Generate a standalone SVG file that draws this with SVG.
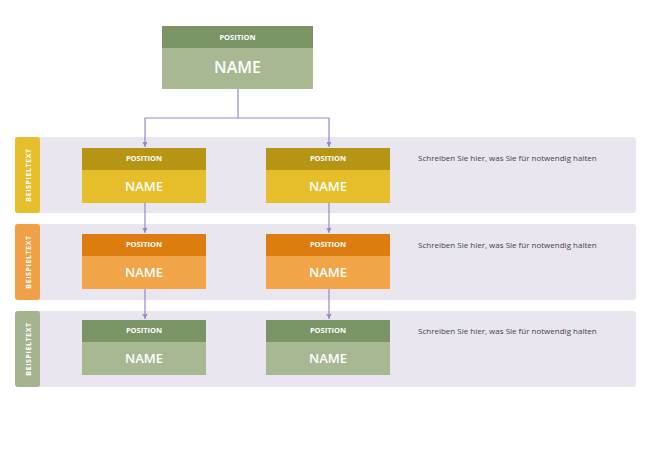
<svg xmlns="http://www.w3.org/2000/svg" width="650" height="450" viewBox="0 0 650 450">
<style>
text{font-family:"Open Sans","Noto Sans",sans-serif;fill:#fff;text-anchor:middle}
.p{font-size:7.5px;font-weight:bold}
.n{font-size:13px;font-weight:600}
.t{font-size:7px;font-weight:bold;letter-spacing:0.6px}
.d{font-size:8px;fill:#444;text-anchor:start}
.band{fill:#e9e6f0}
.c{stroke:#9b86c8;stroke-width:1.2;fill:none}
</style>
<defs><marker id="a" markerWidth="6" markerHeight="6" refX="5" refY="3" orient="auto" markerUnits="userSpaceOnUse"><path d="M0,0.5L5,3L0,5.5z" fill="#9b86c8"/></marker></defs>
<rect class="band" x="15" y="137" width="621" height="76" rx="3"/>
<rect class="band" x="15" y="224" width="621" height="76" rx="3"/>
<rect class="band" x="15" y="311" width="621" height="76" rx="3"/>
<g id="tab1"><rect x="15" y="137" width="25" height="76" rx="3" fill="#e6bd2b"/><text class="t" transform="translate(31,175) rotate(-90)">BEISPIELTEXT</text></g>
<g id="tab2"><rect x="15" y="224" width="25" height="76" rx="3" fill="#f0a047"/><text class="t" transform="translate(31,262) rotate(-90)">BEISPIELTEXT</text></g>
<g id="tab3"><rect x="15" y="311" width="25" height="76" rx="3" fill="#a3b48f"/><text class="t" transform="translate(31,349) rotate(-90)">BEISPIELTEXT</text></g>
<g id="connectors">
<path class="c" d="M238,89V118H145V147" marker-end="url(#a)"/>
<path class="c" d="M238,118H329V147" marker-end="url(#a)"/>
<path class="c" d="M145,203V233" marker-end="url(#a)"/>
<path class="c" d="M329,203V233" marker-end="url(#a)"/>
<path class="c" d="M145,289V319" marker-end="url(#a)"/>
<path class="c" d="M329,289V319" marker-end="url(#a)"/>
</g>
<g id="top"><rect x="162" y="26" width="151" height="22" fill="#7b9466"/><rect x="162" y="48" width="151" height="41" fill="#a7b893"/><text class="p" x="237.5" y="40">POSITION</text><text class="n" x="237.5" y="73" style="font-size:16px">NAME</text></g>
<g id="y1"><rect x="82" y="148" width="124" height="22" fill="#b69514"/><rect x="82" y="170" width="124" height="33" fill="#e6bd2b"/><text class="p" x="144" y="161">POSITION</text><text class="n" x="144" y="191">NAME</text></g>
<g id="y2"><rect x="266" y="148" width="124" height="22" fill="#b69514"/><rect x="266" y="170" width="124" height="33" fill="#e6bd2b"/><text class="p" x="328" y="161">POSITION</text><text class="n" x="328" y="191">NAME</text></g>
<g id="o1"><rect x="82" y="234" width="124" height="22" fill="#dd7d0f"/><rect x="82" y="256" width="124" height="33" fill="#f2a448"/><text class="p" x="144" y="247">POSITION</text><text class="n" x="144" y="277">NAME</text></g>
<g id="o2"><rect x="266" y="234" width="124" height="22" fill="#dd7d0f"/><rect x="266" y="256" width="124" height="33" fill="#f2a448"/><text class="p" x="328" y="247">POSITION</text><text class="n" x="328" y="277">NAME</text></g>
<g id="g1"><rect x="82" y="320" width="124" height="22" fill="#7b9466"/><rect x="82" y="342" width="124" height="33" fill="#a7b893"/><text class="p" x="144" y="333">POSITION</text><text class="n" x="144" y="363">NAME</text></g>
<g id="g2"><rect x="266" y="320" width="124" height="22" fill="#7b9466"/><rect x="266" y="342" width="124" height="33" fill="#a7b893"/><text class="p" x="328" y="333">POSITION</text><text class="n" x="328" y="363">NAME</text></g>
<text class="d" x="418" y="161">Schreiben Sie hier, was Sie für notwendig halten</text>
<text class="d" x="418" y="248">Schreiben Sie hier, was Sie für notwendig halten</text>
<text class="d" x="418" y="334">Schreiben Sie hier, was Sie für notwendig halten</text>
</svg>
